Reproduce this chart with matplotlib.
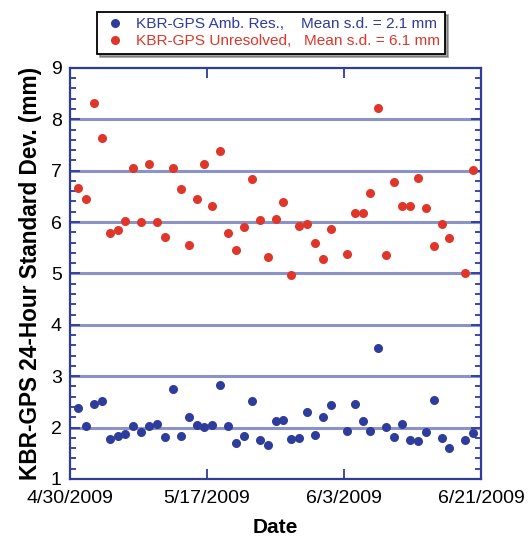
import numpy as np
import matplotlib
matplotlib.use("Agg")
from matplotlib import pyplot as plt
from matplotlib.ticker import MultipleLocator

plt.rcParams['font.family'] = ['Liberation Sans', 'DejaVu Sans']

# day index since 4/30/2009 (days 34 and 49 have no solution)
days = [1, 2, 3, 4, 5, 6, 7, 8, 9, 10, 11, 12, 13, 14, 15, 16, 17, 18, 19, 20,
        21, 22, 23, 24, 25, 26, 27, 28, 29, 30, 31, 32, 33, 35, 36, 37, 38, 39,
        40, 41, 42, 43, 44, 45, 46, 47, 48, 50, 51]

sd_unresolved = [6.66, 6.45, 8.31, 7.64, 5.79, 5.84, 6.02, 7.06, 6.00, 7.12,
                 6.01, 5.71, 7.05, 6.64, 5.56, 6.45, 7.12, 6.31, 7.38, 5.78,
                 5.45, 5.90, 6.83, 6.03, 5.32, 6.05, 6.38, 4.97, 5.92, 5.96,
                 5.59, 5.28, 5.87, 5.38, 6.18, 6.17, 6.56, 8.21, 5.36, 6.77,
                 6.31, 6.31, 6.85, 6.28, 5.53, 5.97, 5.68, 5.00, 7.02]

sd_ambres = [2.38, 2.03, 2.45, 2.52, 1.77, 1.83, 1.88, 2.03, 1.91, 2.03,
             2.06, 1.81, 2.75, 1.83, 2.20, 2.04, 2.01, 2.04, 2.83, 2.03,
             1.70, 1.83, 2.51, 1.75, 1.66, 2.12, 2.14, 1.77, 1.79, 2.31,
             1.86, 2.20, 2.43, 1.93, 2.46, 2.13, 1.93, 3.55, 2.01, 1.81,
             2.07, 1.76, 1.73, 1.91, 2.53, 1.80, 1.60, 1.75, 1.89]

tick_labels = ['4/30/2009', '5/17/2009', '6/3/2009', '6/21/2009']

blue = '#2e3c9c'
red = '#e0362a'
grid_col = '#8b92c7'

fig = plt.figure(figsize=(5.31, 5.43), dpi=100)
ax = fig.add_axes([0.132, 0.118, 0.774, 0.757])

for yv in range(2, 9):
    ax.axhline(yv, color=grid_col, linewidth=2.2, zorder=1)

ax.plot(days, sd_ambres, 'o', color=blue, markersize=6.5, markeredgewidth=0,
        label='KBR-GPS Amb. Res.,    Mean s.d. = 2.1 mm', zorder=3)
ax.plot(days, sd_unresolved, 'o', color=red, markersize=6.5, markeredgewidth=0,
        label='KBR-GPS Unresolved,   Mean s.d. = 6.1 mm', zorder=3)

ax.set_xlim(0, 52)
ax.set_ylim(1, 9)
ax.set_xticks(np.linspace(0, 52, 4))
ax.set_xticklabels(tick_labels)
ax.yaxis.set_major_locator(MultipleLocator(1))
ax.yaxis.set_minor_locator(MultipleLocator(0.2))

for sp in ax.spines.values():
    sp.set_color(blue)
    sp.set_linewidth(1.6)

ax.tick_params(axis='both', which='both', direction='in', color=blue,
               top=True, right=True, labelsize=14, width=1.3)
ax.tick_params(axis='y', which='major', length=7, pad=6)
ax.tick_params(axis='y', which='minor', length=4)
ax.tick_params(axis='x', which='major', length=7, pad=8)

ax.set_xlabel('Date', fontsize=15, fontweight='bold', labelpad=8)
ax.set_ylabel('KBR-GPS 24-Hour Standard Dev. (mm)', fontsize=16.3,
              fontweight='bold', labelpad=6)

leg = fig.legend(loc='upper left', bbox_to_anchor=(0.183, 0.978), fontsize=11.1,
                 labelcolor=[blue, red], frameon=True, fancybox=False,
                 shadow=True, handletextpad=0.55, borderpad=0.35,
                 labelspacing=0.2, handlelength=1.6, borderaxespad=0)
leg.get_frame().set_edgecolor('black')
leg.get_frame().set_linewidth(1.3)

fig.savefig('out.png', dpi=100)
